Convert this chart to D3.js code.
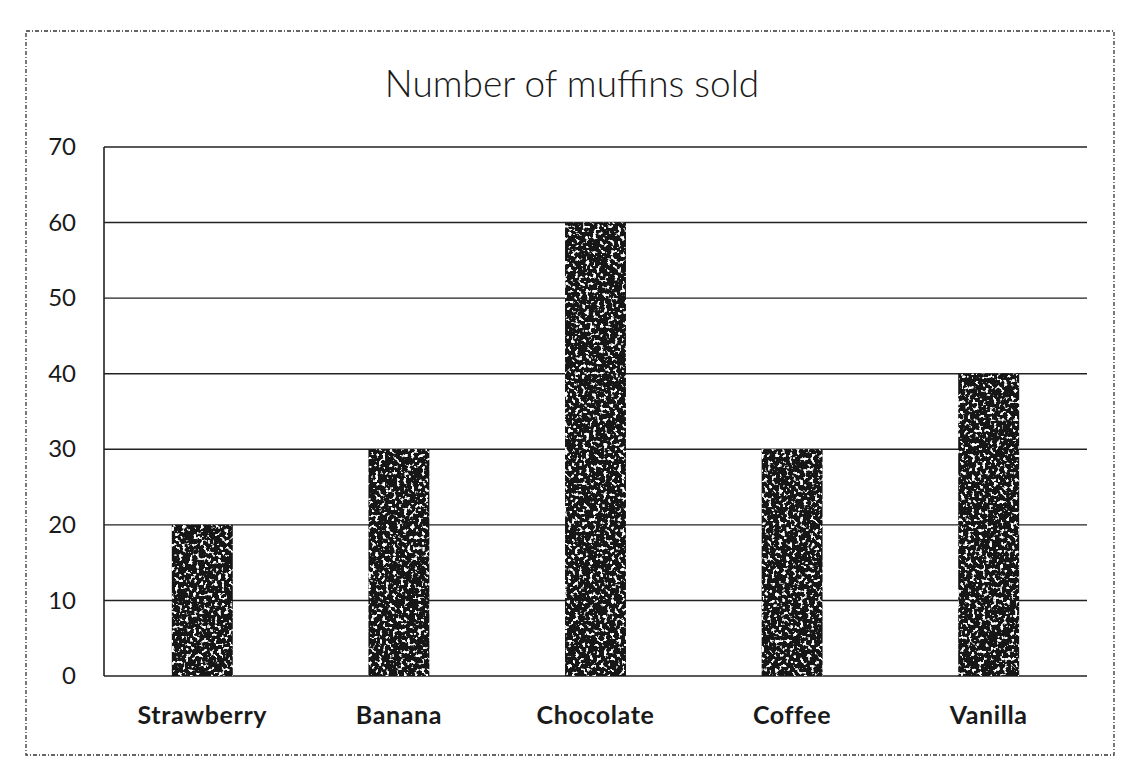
<!DOCTYPE html>
<meta charset="utf-8">
<script src="https://d3js.org/d3.v7.min.js"></script>
<style>
  body { margin: 0; background: #fff; }
  text { font-family: Lato, "Open Sans", sans-serif; fill: #1a1a1a; }
</style>
<div id="my_chart"></div>
<script>

// chart data
var flavours = ["Strawberry", "Banana", "Chocolate", "Coffee", "Vanilla"];
var sold = [20, 30, 60, 30, 40];
var yTicks = [0, 10, 20, 30, 40, 50, 60, 70];

var W = 1145, H = 759;
var margin = {top: 147, right: 58, bottom: 83, left: 104},
    width = W - margin.left - margin.right,
    height = H - margin.top - margin.bottom;

var root = d3.select("#my_chart")
  .append("svg")
    .attr("width", W)
    .attr("height", H);

// speckled texture of the scanned bars
var defs = root.append("defs");
var f = defs.append("filter").attr("id", "speckle")
  .attr("x", 0).attr("y", 0).attr("width", 1).attr("height", 1);
f.append("feTurbulence")
  .attr("type", "fractalNoise")
  .attr("baseFrequency", 0.28)
  .attr("numOctaves", 2)
  .attr("seed", 3)
  .attr("result", "noise");
f.append("feColorMatrix")
  .attr("in", "noise")
  .attr("type", "matrix")
  .attr("values", "0 0 0 0 1  0 0 0 0 1  0 0 0 0 1  10 0 0 0 -5.8")
  .attr("result", "dots");
f.append("feComposite")
  .attr("in", "dots").attr("in2", "SourceGraphic")
  .attr("operator", "in")
  .attr("result", "dotsIn");
var merge = f.append("feMerge");
merge.append("feMergeNode").attr("in", "SourceGraphic");
merge.append("feMergeNode").attr("in", "dotsIn");

// outer dashed frame (chart area)
root.append("rect")
  .attr("x", 26).attr("y", 31)
  .attr("width", 1088).attr("height", 724)
  .attr("fill", "none")
  .attr("stroke", "#333")
  .attr("stroke-width", 1.3)
  .attr("stroke-dasharray", "4 2 1 2");

root.append("text")
  .attr("x", 572)
  .attr("y", 97)
  .attr("text-anchor", "middle")
  .attr("font-size", "37px")
  .attr("font-weight", 300)
  .text("Number of muffins sold");

var svg = root.append("g")
  .attr("transform", "translate(" + margin.left + "," + margin.top + ")");

var x = d3.scaleBand()
  .domain(flavours)
  .range([0, width])
  .paddingInner(0.69)
  .paddingOuter(0.345);

var y = d3.scaleLinear()
  .domain([0, 70])
  .range([height, 0]);

// gridlines
svg.append("g")
  .selectAll("line")
  .data(yTicks)
  .enter()
  .append("line")
    .attr("x1", 0)
    .attr("x2", width)
    .attr("y1", function(d) { return y(d); })
    .attr("y2", function(d) { return y(d); })
    .attr("stroke", "#222")
    .attr("stroke-width", 1.4);

// y axis line
svg.append("line")
  .attr("x1", 0).attr("x2", 0)
  .attr("y1", y(70)).attr("y2", y(0))
  .attr("stroke", "#222")
  .attr("stroke-width", 1.6);

// y tick labels
var axisY = svg.append("g")
  .call(d3.axisLeft(y).tickValues(yTicks).tickSize(0).tickPadding(28));
axisY.select(".domain").remove();
axisY.selectAll("text")
  .attr("font-size", "24px")
  .attr("font-family", "Lato, 'Open Sans', sans-serif")
  .attr("fill", "#1a1a1a");

// bars
svg.selectAll("mybar")
  .data(flavours)
  .enter()
  .append("rect")
    .attr("x", function(d) { return x(d); })
    .attr("y", function(d, i) { return y(sold[i]); })
    .attr("width", x.bandwidth())
    .attr("height", function(d, i) { return height - y(sold[i]); })
    .attr("fill", "#151515")
    .attr("filter", "url(#speckle)");

// category labels
var axisX = svg.append("g")
  .attr("transform", "translate(0," + height + ")")
  .call(d3.axisBottom(x).tickSize(0).tickPadding(30));
axisX.select(".domain").remove();
axisX.selectAll("text")
  .attr("font-size", "25px")
  .attr("font-weight", "bold")
  .attr("letter-spacing", "0.6px")
  .attr("font-family", "Lato, 'Open Sans', sans-serif")
  .attr("fill", "#1a1a1a");

</script>
